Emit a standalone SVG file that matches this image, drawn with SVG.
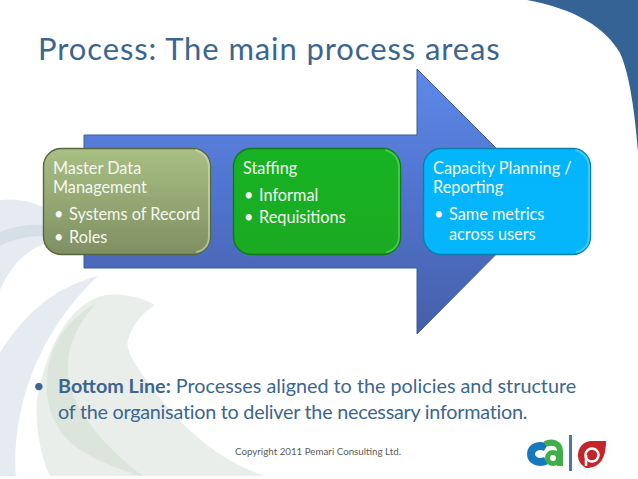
<svg xmlns="http://www.w3.org/2000/svg" width="638" height="479" viewBox="0 0 638 479">
<defs>
<linearGradient id="arrowGrad" x1="0" y1="0" x2="0" y2="1"><stop offset="0" stop-color="#5f88e8"/><stop offset="0.5" stop-color="#4f73cc"/><stop offset="1" stop-color="#465fa8"/></linearGradient>
<linearGradient id="oliveGrad" x1="0" y1="0" x2="0" y2="1"><stop offset="0" stop-color="#a9bf84"/><stop offset="1" stop-color="#7f8f62"/></linearGradient>
<linearGradient id="greenGrad" x1="0" y1="0" x2="0" y2="1"><stop offset="0" stop-color="#16b324"/><stop offset="1" stop-color="#1caa22"/></linearGradient>
<linearGradient id="cyanGrad" x1="0" y1="0" x2="0" y2="1"><stop offset="0" stop-color="#03b5fb"/><stop offset="1" stop-color="#06b6fd"/></linearGradient>
</defs>
<style>
text{font-family:"Lato","Carlito","Open Sans",sans-serif}
.t{font-size:16.3px;fill:#f4f7f0}
.b{font-size:19.8px;fill:#3c6690}
.box{stroke-width:1.4}
.edge{fill:none;stroke-width:2;stroke-linecap:round;stroke-opacity:.6}
</style>
<rect width="638" height="479" fill="#ffffff"/>
<g id="background">
<path d="M527 0C575 9 605 27 620 53C630 75 635 115 638 152V0Z" fill="#356395"/>
<path d="M0 200C15 198 30 201 44 207V244C25 250 8 270 0 290Z" fill="#e6ebf1"/>
<path d="M0 232C15 226 30 224 44 225V236C25 236 10 240 0 246Z" fill="#d6dee8"/>
<path d="M98 276C50 288 20 320 0 353V476H16C12 420 30 340 98 276Z" fill="#e6eaf1"/>
<path d="M155 305C140 296 120 293 105 295C65 305 45 355 37 400C35 430 42 460 50 476H265C215 460 175 420 150 385C135 365 125 350 128 340C132 325 142 313 155 305Z" fill="#e9eeea"/>
<path d="M96 303C70 318 52 340 47 375C44 410 58 435 80 450C100 462 120 470 141 476H143C115 455 85 425 73 395C62 365 68 335 96 303Z" fill="#dbe5dc"/>
</g>
<text x="38" y="60" font-size="31" letter-spacing="0.9" fill="#3c6690">Process: The main process areas</text>
<g id="connectors">
<path d="M84 135H417V69L549 201L417 334V268H84Z" fill="url(#arrowGrad)" stroke="#3d5d9e" stroke-width="1"/>
</g>
<g id="node-master">
<rect class="box" x="43.500" y="148.500" width="167" height="106" rx="18" fill="url(#oliveGrad)" stroke="#56663f"/>
<path class="edge" d="M196 150C205 153 209 160 209 168V236C209 244 205 250 197 252" stroke="#d3dfba"/>
<text class="t" x="53" y="174">Master Data</text>
<text class="t" x="53" y="193">Management</text>
<text class="t" x="54" y="220">•</text>
<text class="t" x="69" y="220">Systems of Record</text>
<text class="t" x="54" y="243">•</text>
<text class="t" x="69" y="243">Roles</text>
</g>
<g id="node-staffing">
<rect class="box" x="233.500" y="148.500" width="167" height="106" rx="18" fill="url(#greenGrad)" stroke="#0f7a18"/>
<path class="edge" d="M386 150C395 153 399 160 399 168V236C399 244 395 250 387 252" stroke="#5fdc66"/>
<text class="t" x="243" y="174">Staffing</text>
<text class="t" x="244" y="201">•</text>
<text class="t" x="259" y="201">Informal</text>
<text class="t" x="244" y="223">•</text>
<text class="t" x="259" y="223">Requisitions</text>
</g>
<g id="node-capacity">
<rect class="box" x="423.500" y="148.500" width="167" height="106" rx="18" fill="url(#cyanGrad)" stroke="#0a7fae"/>
<path class="edge" d="M576 150C585 153 589 160 589 168V236C589 244 585 250 577 252" stroke="#62d8fb"/>
<text class="t" x="433" y="174">Capacity Planning /</text>
<text class="t" x="433" y="193">Reporting</text>
<text class="t" x="434" y="220">•</text>
<text class="t" x="449" y="220">Same metrics</text>
<text class="t" x="449" y="240">across users</text>
</g>
<text class="b" x="33" y="393">•</text>
<text class="b" x="58" y="393"><tspan font-weight="700">Bottom Line:</tspan> Processes aligned to the policies and structure</text>
<text class="b" x="58" y="419" letter-spacing="-0.25">of the organisation to deliver the necessary information.</text>
<text x="235" y="455" font-size="9.750" fill="#5c5c5c">Copyright 2011 Pemari Consulting Ltd.</text>
<g id="logos">
<path d="M546 447.500C540 444 531 447 531 454C531 461 540 464 546 460.500" fill="none" stroke="#1678bd" stroke-width="8"/>
<path d="M545 444C552 441 560 443 560 451V466" fill="none" stroke="#3fae49" stroke-width="6"/>
<circle cx="553" cy="458" r="5.500" fill="none" stroke="#3fae49" stroke-width="5"/>
<rect x="569" y="435" width="3" height="36" fill="#4a76a8"/>
<path d="M606 441H592C583 441 578 448 578 455C578 461 581 465 586 468C600 468 606 458 606 441Z" fill="#c4252b"/>
<circle cx="592" cy="455" r="6.500" fill="#c4252b" stroke="#ffffff" stroke-width="2.500"/>
<path d="M586 455V466" stroke="#ffffff" stroke-width="2.500"/>
</g>
</svg>
